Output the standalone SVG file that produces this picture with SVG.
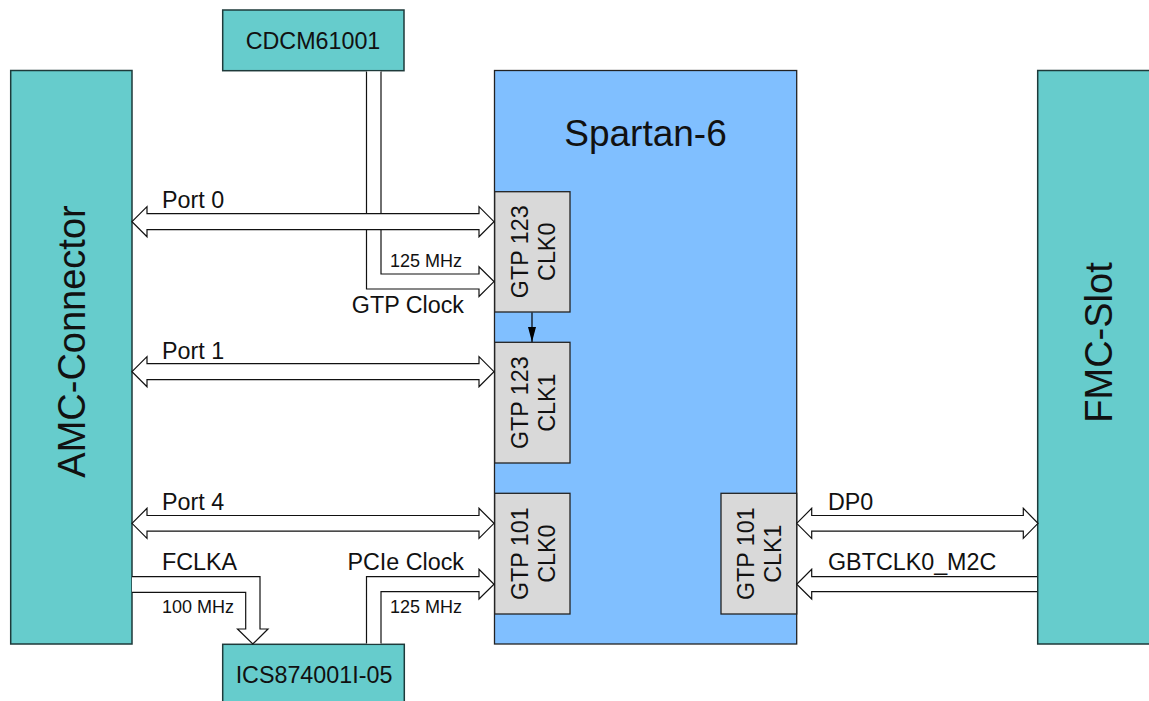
<svg xmlns="http://www.w3.org/2000/svg" width="1149" height="701" viewBox="0 0 1149 701">
<defs>
<style>
.teal{fill:#66CCCC;stroke:#1e3a3a;stroke-width:1.5}
.fpga{fill:#80BFFF;stroke:#222;stroke-width:1.3}
.gtp{fill:#D9D9D9;stroke:#222;stroke-width:1.3}
.conn{fill:#fff;stroke:#111;stroke-width:1.2;stroke-linejoin:miter}
text{font-family:"Liberation Sans",Arial,sans-serif;fill:#111}
.big{font-size:38px}
.lbl{font-size:23.3px}
.sm{font-size:18px}
.mid{text-anchor:middle}
</style>
<marker id="ah" viewBox="0 0 10 10" refX="10" refY="5" markerWidth="15" markerHeight="8" markerUnits="userSpaceOnUse" orient="auto" preserveAspectRatio="none">
<path d="M0,0 L10,5 L0,10 Z" fill="#000"/>
</marker>
</defs>
<rect width="1149" height="701" fill="#fff"/>
<g id="amc">
<rect class="teal" x="10.7" y="70.5" width="121.3" height="573.5"/>
<text class="big mid" transform="rotate(-90 85 341.5)" x="85" y="341.5">AMC-Connector</text>
</g>
<g id="fmc">
<rect class="teal" x="1037.7" y="70.5" width="130" height="573.5"/>
<text class="big mid" transform="rotate(-90 1112 342.5)" x="1112" y="342.5">FMC-Slot</text>
</g>
<g id="cdcm">
<rect class="teal" x="222.7" y="10" width="181.3" height="60.7"/>
<text class="lbl mid" x="313" y="49.3">CDCM61001</text>
</g>
<g id="ics">
<rect class="teal" x="222.7" y="644.3" width="181.6" height="70"/>
<text class="lbl mid" x="314" y="683">ICS874001I-05</text>
</g>
<g id="spartan6">
<rect class="fpga" x="494.5" y="70.5" width="302.2" height="573.5"/>
<text class="mid" style="font-size:37px" x="645.5" y="145.7">Spartan-6</text>
</g>
<g id="gtp123clk0">
<rect class="gtp" x="494.7" y="191.7" width="75.3" height="120.3"/>
<text class="lbl mid" transform="rotate(-90 528.3 251.8)" x="528.3" y="251.8">GTP 123</text>
<text class="lbl mid" transform="rotate(-90 555.3 251.8)" x="555.3" y="251.8">CLK0</text>
</g>
<g id="gtp123clk1">
<rect class="gtp" x="494.7" y="342.3" width="75.3" height="120.7"/>
<text class="lbl mid" transform="rotate(-90 528.3 402.7)" x="528.3" y="402.7">GTP 123</text>
<text class="lbl mid" transform="rotate(-90 555.3 402.7)" x="555.3" y="402.7">CLK1</text>
</g>
<g id="gtp101clk0">
<rect class="gtp" x="494.7" y="493.3" width="75.3" height="120.7"/>
<text class="lbl mid" transform="rotate(-90 528.3 553.7)" x="528.3" y="553.7">GTP 101</text>
<text class="lbl mid" transform="rotate(-90 555.3 553.7)" x="555.3" y="553.7">CLK0</text>
</g>
<g id="gtp101clk1">
<rect class="gtp" x="721" y="493.3" width="75.7" height="120.7"/>
<text class="lbl mid" transform="rotate(-90 753.8 553.7)" x="753.8" y="553.7">GTP 101</text>
<text class="lbl mid" transform="rotate(-90 781.5 553.7)" x="781.5" y="553.7">CLK1</text>
</g>
<g id="connectors">
<path class="conn" d="M366.5,71.5 L366.5,289 L479,289 L479,296.5 L494,281.6 L479,266.7 L479,274 L381,274 L381,71.5"/>
<path class="conn" d="M132,221.7 L147,206.7 L147,213.7 L479,213.7 L479,206.7 L494,221.7 L479,236.7 L479,229.7 L147,229.7 L147,236.7 Z"/>
<path class="conn" d="M132,371.7 L147,356.7 L147,363.7 L479,363.7 L479,356.7 L494,371.7 L479,386.7 L479,379.7 L147,379.7 L147,386.7 Z"/>
<path class="conn" d="M132,523.3 L147,508.3 L147,515.5 L479,515.5 L479,508.3 L494,523.3 L479,538.3 L479,531.1 L147,531.1 L147,538.3 Z"/>
<path class="conn" d="M132,576.7 L260,576.7 L260,629 L268,629 L252.8,644 L237.5,629 L245.7,629 L245.7,592.3 L132,592.3"/>
<path class="conn" d="M366.5,643.5 L366.5,576.7 L479,576.7 L479,569.3 L494,584.2 L479,599 L479,591.7 L381,591.7 L381,643.5"/>
<path class="conn" d="M796.7,523.3 L811.7,508.3 L811.7,515.5 L1023.3,515.5 L1023.3,508.3 L1038,523.3 L1023.3,538.3 L1023.3,531.1 L811.7,531.1 L811.7,538.3 Z"/>
<path class="conn" d="M1037,576.7 L811.7,576.7 L811.7,569.3 L796.7,584.2 L811.7,599 L811.7,591.7 L1037,591.7"/>
<line x1="532" y1="312.5" x2="532" y2="342" stroke="#000" stroke-width="1.2" marker-end="url(#ah)"/>
</g>
<g id="labels">
<text class="lbl" x="162" y="208">Port 0</text>
<text class="lbl" x="162" y="359">Port 1</text>
<text class="lbl" x="162" y="510">Port 4</text>
<text class="sm" x="390" y="267.3">125 MHz</text>
<text class="lbl" text-anchor="end" x="464" y="313.3">GTP Clock</text>
<text class="lbl" x="162" y="570">FCLKA</text>
<text class="sm" x="162" y="613">100 MHz</text>
<text class="lbl" text-anchor="end" x="464" y="570">PCIe Clock</text>
<text class="sm" x="390" y="613">125 MHz</text>
<text class="lbl" x="828" y="510">DP0</text>
<text class="lbl" x="828" y="570">GBTCLK0_M2C</text>
</g>
</svg>
